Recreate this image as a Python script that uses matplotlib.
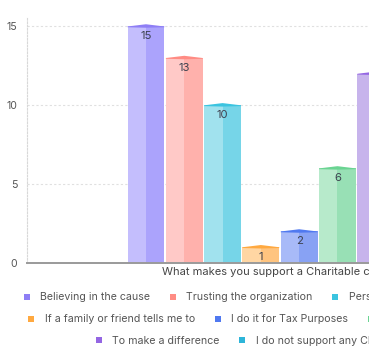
import matplotlib.pyplot as plt
from matplotlib.lines import Line2D
from matplotlib.patches import Polygon, Rectangle

plt.rcParams['font.family'] = ['Inter', 'DejaVu Sans']

# answers to "What makes you support a Charitable cause"
labels = [
    "Believing in the cause",
    "Trusting the organization",
    "Personal connection to the cause",
    "If a family or friend tells me to",
    "I do it for Tax Purposes",
    "It gives me a sense of joy",
    "To make a difference",
    "I do not support any Charitable cause",
]
counts = [15, 13, 10, 1, 2, 6, 12, 3]

# main colour, light front half, darker right half
top_colors = ["#8e7ef5", "#ff8c84", "#3bc4e0", "#ffa940", "#5079f0", "#6ad492", "#9466e3", "#2db5d9"]
light_colors = ["#c4befd", "#ffc9c7", "#a1e2ee", "#ffd6a3", "#a8baf8", "#b7eacb", "#c7b4ec", "#9fdcee"]
dark_colors = ["#aba3fc", "#ffb1ac", "#76d5e8", "#ffc47f", "#88a2f4", "#98e0b5", "#b59ce6", "#6fcbe5"]

legend_rows = [[0, 1, 2], [3, 4, 5], [6, 7]]

fig = plt.figure(figsize=(3.69, 3.6), dpi=100)
# the original chart is wider than the picture, so the axes run off the right edge
ax = fig.add_axes([27 / 369, 97 / 360, 506 / 369, 246 / 360])

ymax = 15.6
w = 0.96
for i, (v, lc, dc, tc) in enumerate(zip(counts, light_colors, dark_colors, top_colors)):
    ax.add_patch(Rectangle((i - w / 2, 0), w / 2, v, color=lc, lw=0, zorder=2))
    ax.add_patch(Rectangle((i, 0), w / 2, v, color=dc, lw=0, zorder=2))
    cap = [(i - w / 2, v), (i, v + 0.14), (i + w / 2, v), (i + w / 2, v - 0.05),
           (i, v - 0.08), (i - w / 2, v - 0.05)]
    ax.add_patch(Polygon(cap, closed=True, color=tc, lw=0, zorder=3))
    ax.text(i, v - 0.62, str(v), ha='center', va='center', fontsize=8.2,
            color='#3d4250', zorder=4)

ax.set_xlim(-3.107, 10.107)
ax.set_ylim(0, ymax)
ax.set_yticks([0, 5, 10, 15])
ax.set_xticks([])
ax.tick_params(axis='y', length=0, pad=7, labelsize=7.6, labelcolor='#555555')
ax.grid(axis='y', color='#e0e0e0', linestyle=(0, (2, 2)), linewidth=0.8, zorder=0)

for s in ['top', 'right']:
    ax.spines[s].set_visible(False)
ax.spines['left'].set_color('#d8d8d8')
ax.spines['left'].set_linestyle((0, (1.5, 1.5)))
ax.spines['left'].set_linewidth(0.8)
ax.spines['bottom'].set_color('#9a9a9a')
ax.spines['bottom'].set_linewidth(1.4)
ax.spines['bottom'].set_zorder(5)

fig.text(278 / 369, 1 - 272 / 360, "What makes you support a Charitable cause",
         ha='center', va='center', fontsize=8, color='#444444')

row_y = [297.5, 319.5, 341]
for row, yy in zip(legend_rows, row_y):
    handles = [Line2D([], [], marker='s', linestyle='none', markersize=4.2,
                      markerfacecolor=top_colors[k], markeredgewidth=0) for k in row]
    fig.legend(handles, [labels[k] for k in row], loc='center',
               bbox_to_anchor=(270 / 369, 1 - yy / 360), ncol=len(row),
               frameon=False, fontsize=7.65, labelcolor='#555555',
               handlelength=0.6, handletextpad=0.95, columnspacing=1.85,
               borderpad=0, borderaxespad=0)

fig.savefig("out.png", dpi=100)
